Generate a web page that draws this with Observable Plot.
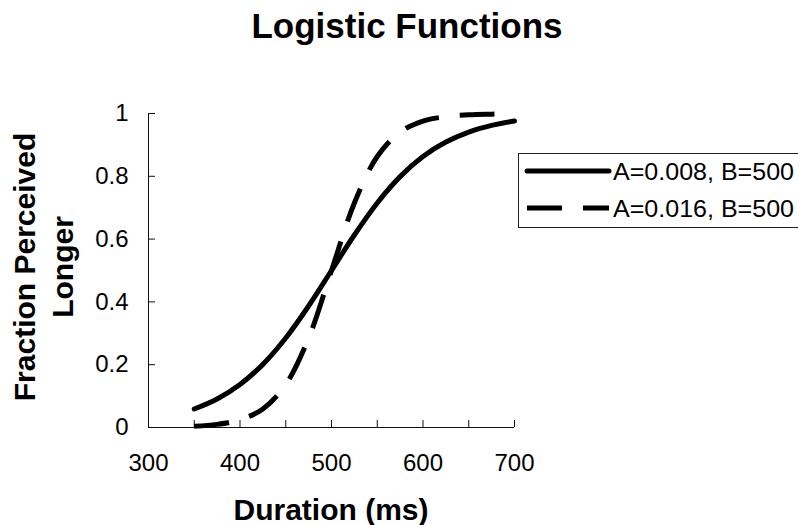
<!DOCTYPE html>
<html>
<head>
<meta charset="utf-8">
<script src="https://cdn.jsdelivr.net/npm/d3@7"></script>
<script src="https://cdn.jsdelivr.net/npm/@observablehq/plot@0.6"></script>
<style>
  html, body { margin: 0; padding: 0; background: white; }
  #wrap { position: relative; width: 798px; height: 525px; overflow: hidden; font-family: "Liberation Sans", Arial, sans-serif; }
  #chart { position: absolute; left: 0; top: 0; }
  #overlay { position: absolute; left: 0; top: 0; pointer-events: none; }
</style>
</head>
<body>
<div id="wrap">
  <div id="chart"></div>
  <svg id="overlay" width="798" height="525"></svg>
</div>
<script>
// ---- data ----
const durations = [350, 375, 400, 425, 450, 475, 500, 525, 550, 575, 600, 625, 650, 675, 700];
const fractionA008 = [0.059, 0.091, 0.137, 0.201, 0.285, 0.387, 0.500, 0.613, 0.715, 0.799, 0.863, 0.909, 0.941, 0.962, 0.976];
const fractionA016 = [0.004, 0.010, 0.025, 0.059, 0.137, 0.285, 0.500, 0.715, 0.863, 0.941, 0.976, 0.990, 0.996, 0.998, 0.999];
const seriesLabels = ["A=0.008, B=500", "A=0.016, B=500"];
const xMajorTicks = [300, 400, 500, 600, 700];
const xMinorTicks = [300, 350, 400, 450, 500, 550, 600, 650, 700];
const yTicks = [0, 0.2, 0.4, 0.6, 0.8, 1];
const yTickLabels = ["0", "0.2", "0.4", "0.6", "0.8", "1"];
const titleText = "Logistic Functions";
const xLabel = "Duration (ms)";
const yLabelLines = ["Fraction Perceived", "Longer"];

const solidData = durations.map((d, i) => ({duration: d, fraction: fractionA008[i]}));
const dashedData = durations.map((d, i) => ({duration: d, fraction: fractionA016[i]}));

const FONT = "Liberation Sans, Arial, sans-serif";

const chart = Plot.plot({
  width: 798,
  height: 525,
  marginLeft: 148,
  marginRight: 284,
  marginTop: 113,
  marginBottom: 98,
  style: {fontFamily: FONT, fontSize: "24px", color: "black", background: "white", overflow: "visible"},
  x: {domain: [300, 700]},
  y: {domain: [0, 1]},
  marks: [
    Plot.axisX(xMinorTicks, {tickSize: -7, fill: "none", label: null, stroke: "#111"}),
    Plot.axisX(xMajorTicks, {tickSize: 0, tickPadding: 26, label: null, fontSize: 24, fill: "black", tickFormat: d => String(d)}),
    Plot.axisY(yTicks, {tickSize: -7, fill: "none", label: null, stroke: "#111"}),
    Plot.axisY(yTicks, {tickSize: 0, tickPadding: 20, label: null, fontSize: 24, fill: "black", tickFormat: d => yTickLabels[yTicks.indexOf(d)]}),
    Plot.ruleX([300], {stroke: "#111"}),
    Plot.ruleY([0], {stroke: "#111"}),
    Plot.line(solidData, {x: "duration", y: "fraction", stroke: "black", strokeWidth: 5, curve: "catmull-rom", strokeLinecap: "round"}),
    Plot.line(dashedData, {x: "duration", y: "fraction", stroke: "black", strokeWidth: 5, curve: "catmull-rom", strokeDasharray: "35,21", strokeLinecap: "butt"})
  ]
});
document.getElementById("chart").appendChild(chart);

// ---- title, axis labels, legend ----
const ov = d3.select("#overlay");
ov.append("text").attr("x", 407).attr("y", 38).attr("text-anchor", "middle")
  .attr("font-family", FONT).attr("font-size", 35).attr("font-weight", "bold").text(titleText);
ov.append("text").attr("x", 331).attr("y", 520).attr("text-anchor", "middle")
  .attr("font-family", FONT).attr("font-size", 30).attr("font-weight", "bold").text(xLabel);
const yl = ov.append("text").attr("transform", "translate(35,267) rotate(-90)").attr("text-anchor", "middle")
  .attr("font-family", FONT).attr("font-size", 30).attr("font-weight", "bold");
yLabelLines.forEach((t, i) => yl.append("tspan").attr("x", 0).attr("dy", i === 0 ? 0 : 38).text(t));

// legend
const lg = ov.append("g");
lg.append("rect").attr("x", 518.5).attr("y", 153.5).attr("width", 320).attr("height", 74)
  .attr("fill", "white").attr("stroke", "#222").attr("stroke-width", 1);
const rows = [{y: 171, dash: null, cap: "round"}, {y: 208, dash: "35,21", cap: "butt"}];
rows.forEach((r, i) => {
  lg.append("line").attr("x1", 527).attr("x2", 609).attr("y1", r.y).attr("y2", r.y)
    .attr("stroke", "black").attr("stroke-width", 5).attr("stroke-linecap", r.cap)
    .attr("stroke-dasharray", r.dash);
  lg.append("text").attr("x", 613).attr("y", r.y).attr("dy", "0.36em")
    .attr("font-family", FONT).attr("font-size", 24)
    .attr("textLength", 181).attr("lengthAdjust", "spacingAndGlyphs").text(seriesLabels[i]);
});
</script>
</body>
</html>
